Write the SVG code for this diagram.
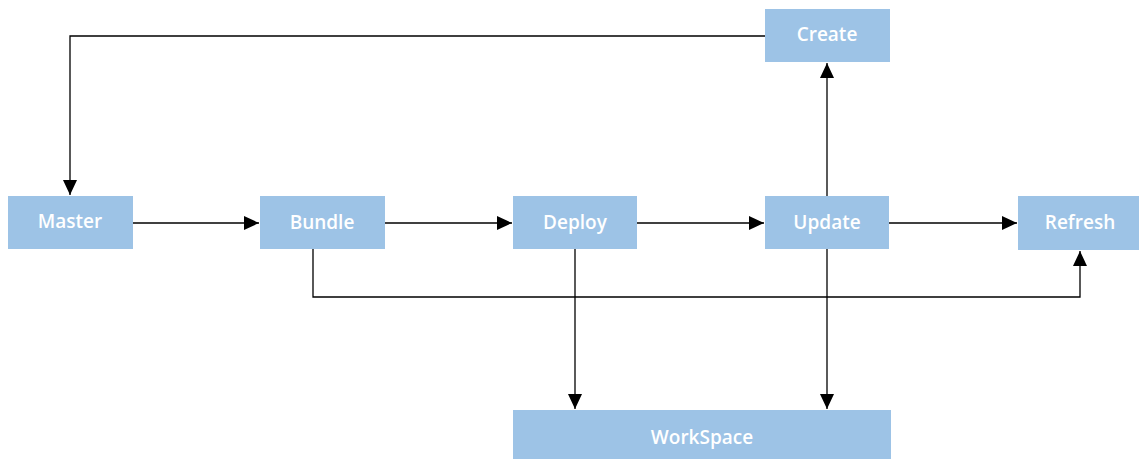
<svg xmlns="http://www.w3.org/2000/svg" width="1139" height="459" viewBox="0 0 1139 459">
<style>
.box{fill:#9DC3E6}
.lbl{fill:#fff;font-family:"Open Sans","Noto Sans",sans-serif;font-weight:600;font-size:19px;text-anchor:middle}
.c{fill:none;stroke:#000;stroke-width:1.3}
</style>
<defs>
<marker id="ah" markerUnits="userSpaceOnUse" markerWidth="16" markerHeight="14" refX="15" refY="7" orient="auto">
<path d="M0,0 L15,7 L0,14 Z" fill="#000"/>
</marker>
</defs>
<rect width="1139" height="459" fill="#fff"/>
<g id="connectors">
<path class="c" d="M133,223 H259" marker-end="url(#ah)"/>
<path class="c" d="M385,223 H512" marker-end="url(#ah)"/>
<path class="c" d="M637,223 H764" marker-end="url(#ah)"/>
<path class="c" d="M889,223 H1017" marker-end="url(#ah)"/>
<path class="c" d="M765,36 H70 V195" marker-end="url(#ah)"/>
<path class="c" d="M827,196 V63" marker-end="url(#ah)"/>
<path class="c" d="M316,247 H313 V297 H1080 V251" marker-end="url(#ah)"/>
<path class="c" d="M575,249 V409" marker-end="url(#ah)"/>
<path class="c" d="M827,249 V409" marker-end="url(#ah)"/>
</g>
<g id="master"><rect class="box" x="8" y="196" width="125" height="53"/><text class="lbl" x="70" y="228">Master</text></g>
<g id="bundle"><rect class="box" x="260" y="196" width="125" height="53"/><text class="lbl" x="322" y="229">Bundle</text></g>
<g id="deploy"><rect class="box" x="513" y="196" width="124" height="53"/><text class="lbl" x="575" y="229">Deploy</text></g>
<g id="update"><rect class="box" x="765" y="196" width="124" height="53"/><text class="lbl" x="827" y="229">Update</text></g>
<g id="refresh"><rect class="box" x="1018" y="196" width="121" height="54"/><text class="lbl" x="1080" y="229">Refresh</text></g>
<g id="create"><rect class="box" x="765" y="9" width="125" height="53"/><text class="lbl" x="827" y="41">Create</text></g>
<g id="workspace"><rect class="box" x="513" y="410" width="378" height="49"/><text class="lbl" x="702" y="444">WorkSpace</text></g>
</svg>
